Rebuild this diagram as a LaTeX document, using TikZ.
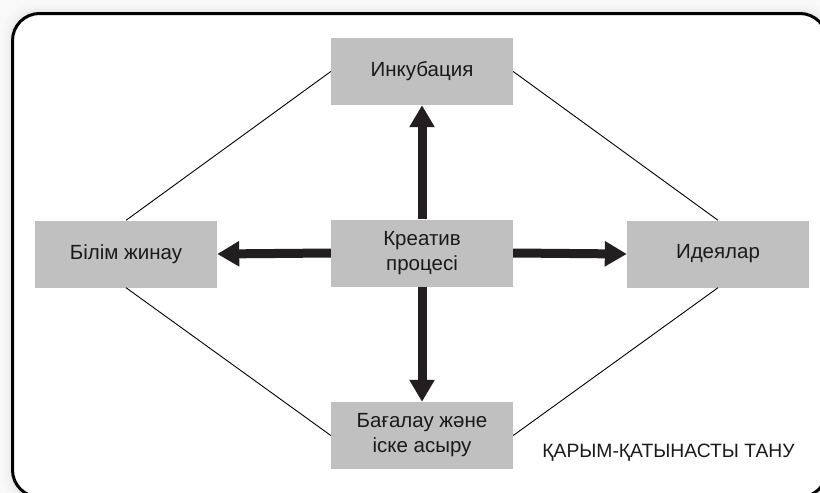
\documentclass[tikz,border=0pt]{standalone}
\usepackage{fontspec}
\setmainfont{Liberation Sans}
\usetikzlibrary{arrows.meta}
\definecolor{boxgray}{HTML}{C0C0C0}
\definecolor{arrowdark}{HTML}{231F20}
\definecolor{txt}{HTML}{1A1A1A}
\tikzset{
  stagebox/.style={fill=boxgray, draw=none, minimum width=182pt, minimum height=67pt,
    inner sep=0pt, align=center, text=txt, font=\fontsize{20.5}{25}\selectfont},
  bigarrow/.style={draw=arrowdark, line width=9pt,
    -{Triangle[length=22pt,width=24pt]}},
  thinline/.style={draw=black, line width=0.9pt},
}
\begin{document}
\begin{tikzpicture}[x=1pt,y=-1pt]
\useasboundingbox (0,0) rectangle (820,493);
% background and soft glow
\fill[gray!5] (0,0) rectangle (820,493);
\foreach \d/\g in {10/6,8/8,6/10,4/14,2/20}{
  \fill[gray!\g, rounded corners=30pt] (12.5-\d,13.5-\d) rectangle (827+\d,497+\d);
}
\draw[fill=white, line width=3pt, rounded corners=27pt] (12.5,13.5) rectangle (827,497);

\node[stagebox] (inc) at (422,71.5) {Инкубация};
\node[stagebox] (cre) at (422,253) {Креатив\\процесі};
\node[stagebox] (bil) at (126,254) {Білім жинау};
\node[stagebox] (ide) at (718,254) {Идеялар};
\node[stagebox] (bag) at (422,435.5) {Бағалау және\\іске асыру};

\draw[thinline] (inc.west) -- (bil.north);
\draw[thinline] (bil.south) -- (bag.west);
\draw[thinline] (inc.east) -- (ide.north);
\draw[thinline] (ide.south) -- (bag.east);

\draw[bigarrow] (cre.north) -- (inc.south);
\draw[bigarrow] (cre.south) -- (bag.north);
\draw[bigarrow] (cre.west) -- (bil.east);
\draw[bigarrow] (cre.east) -- (ide.west);

\node[anchor=base, text=txt, inner sep=0pt, font=\fontsize{19.3}{25}\selectfont] (lbl) at (668.5,457) {ҚАРЫМ-ҚАТЫНАСТЫ ТАНУ};
\end{tikzpicture}
\end{document}
